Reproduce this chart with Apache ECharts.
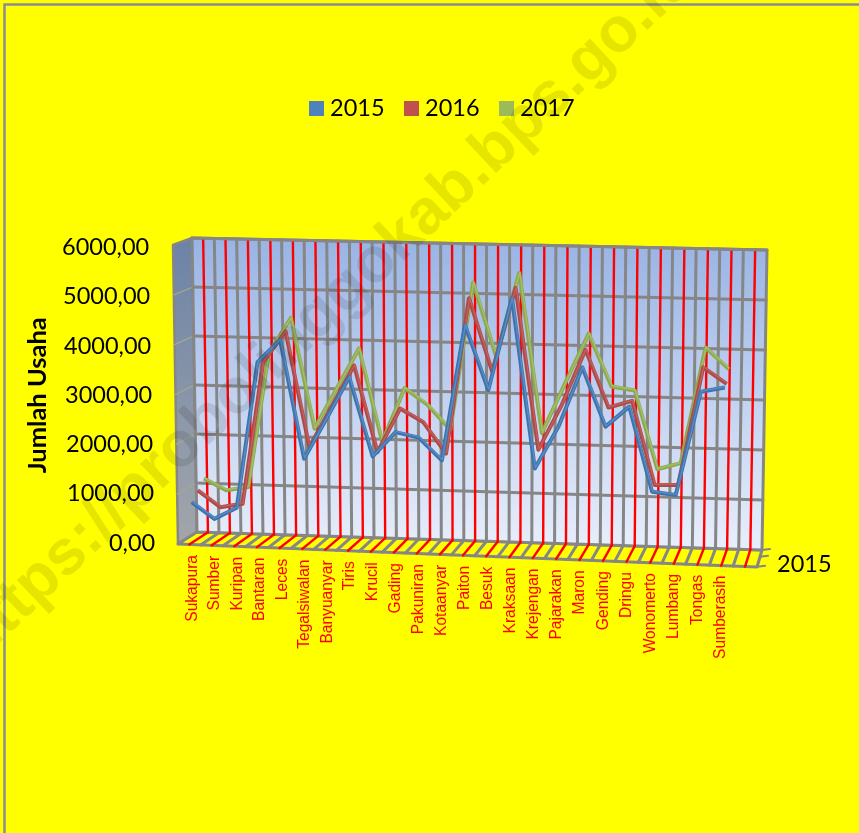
<!DOCTYPE html>
<html><head><meta charset="utf-8">
<style>html,body{margin:0;padding:0;background:#ff0}#c{width:859px;height:833px}</style>
<script src="https://cdn.jsdelivr.net/npm/echarts@6/dist/echarts.min.js"></script>
</head><body><div id="c"></div>
<script>
const categories=['Sukapura','Sumber','Kuripan','Bantaran','Leces','Tegalsiwalan','Banyuanyar','Tiris','Krucil','Gading','Pakuniran','Kotaanyar','Paiton','Besuk','Kraksaan','Krejengan','Pajarakan','Maron','Gending','Dringu','Wonomerto','Lumbang','Tongas','Sumberasih',''];
const values2015=[824,498,741,3720,4190,1790,2620,3475,1883,2393,2297,1853,4607,3307,5180,1755,2615,3826,2647,3065,1371,1322,3410,3512];
const values2016=[981,653,738,3637,4275,1937,2777,3623,1880,2777,2520,1896,5050,3580,5283,2033,2952,4077,2926,3075,1400,1417,3790,3470];
const values2017=[1140,912,996,3730,4464,2226,3050,3877,1995,3097,2773,2283,5270,3800,5485,2267,3288,4295,3244,3176,1607,1744,4075,3655];
const seriesNames=['2015','2016','2017'];
const depthLabel='2015';
const yTicks=[0,1000,2000,3000,4000,5000,6000];

const chart=echarts.init(document.getElementById('c'));
const G={left:179.2,top:247.5,width:574.2,height:295.5};
const W={bl:[197,532],br:[762,550],tl:[192,238],tr:[767,250]};
const lerp=(a,b,t)=>a+(b-a)*t;
// oblique projection of (u along categories, v along values, d depth: 1 = back wall, 0 = front)
function proj(u0,v,d){
  const u=u0+0.031*u0*(u0-1);
  const bx=lerp(W.bl[0],W.br[0],u),by=lerp(W.bl[1],W.br[1],u);
  const tx=lerp(W.tl[0],W.tr[0],u),ty=lerp(W.tl[1],W.tr[1],u);
  const dx=lerp(-19,-5,u),dy=lerp(12,17,u);
  return [lerp(bx,tx,v)+(1-d)*dx,lerp(by,ty,v)+(1-d)*dy];
}
function fromPixel(p,d){return proj((p[0]-G.left)/G.width,(G.top+G.height-p[1])/G.height,d);}
const GREY='#868686';
const ln=(a,b,stroke,w)=>({type:'line',shape:{x1:a[0],y1:a[1],x2:b[0],y2:b[1]},style:{stroke,lineWidth:w,lineCap:'round'}});
const poly=(pts,fill,stroke,w)=>({type:'polygon',shape:{points:pts},style:{fill,stroke,lineWidth:w,lineJoin:'round'}});
function frameRender(params,api){
  const ch=[];
  const tf=proj(0,1,0);tf[1]-=5;
  ch.push(poly([proj(0,0,0),proj(0,0,1),proj(0,1,1),tf],new echarts.graphic.LinearGradient(0,0,0,1,[{offset:0,color:'#6C83A6'},{offset:1,color:'#A3A6AB'}]),GREY,2.5));
  ch.push(poly([proj(0,0,1),proj(1,0,1),proj(1,0,0),proj(0,0,0)],'#FFFF00',GREY,3));
  ch.push(poly([proj(0,0,1),proj(1,0,1),proj(1,1,1),proj(0,1,1)],new echarts.graphic.LinearGradient(0,0,0,1,[{offset:0,color:'#98B3E4'},{offset:0.5,color:'#C0D1F0'},{offset:1,color:'#E9EFFB'}]),GREY,3));
  const n=categories.length;
  for(let k=1;k<n;k++){
    const u=k/n;
    ch.push(ln(proj(u,0,1),proj(u,1,1),GREY,3));
    ch.push(ln(proj(u,0,1),proj(u,0,0),GREY,3));
  }
  yTicks.slice(1,-1).forEach(t=>{
    const v=t/6000;
    const a=proj(0,v,1),b=proj(1,v,1),c=proj(0,v,0);c[1]-=5*v;
    ch.push(ln(a,c,'#A8A88E',1.2));
    ch.push(ln(a,b,GREY,3));
  });
  for(let k=0;k<n;k++){
    const u=(k+.5)/n;
    ch.push(ln(proj(u,0,1),proj(u,1,1),'#FF0000',2.4));
    ch.push(ln(proj(u,0,1),proj(u,0,0),'#FF0000',2.4));
  }
  [1,0.6,0.02].forEach(d=>{const a=proj(1,0,d);ch.push(ln(a,[a[0]+8,a[1]-1],GREY,2));});
  ch.push(ln(proj(0,1,1),proj(1,1,1),GREY,3));
  return {type:'group',children:ch};
}
function lineRender(depth,values,stroke,light){
  return function(params,api){
    if(params.dataIndex!==values.length-1) return null;
    const pts=values.map((v,i)=>fromPixel(api.coord([i,v]),depth));
    return {type:'group',children:[
      {type:'polyline',shape:{points:pts},style:{fill:'none',stroke,lineWidth:4,lineJoin:'round',lineCap:'butt'}},
      {type:'polyline',shape:{points:pts.map(p=>[p[0]+0.5,p[1]-0.7])},style:{fill:'none',stroke:light,lineWidth:1.4,lineJoin:'round'}}
    ]};
  };
}
const toData=a=>a.map((v,i)=>[i,v]);
const rich={};
categories.forEach((c,i)=>{
  const bow=0.0304*(i*i-23*i);           // labels follow the wall's perspective spacing
  rich['p'+i]={padding:[4,i*0.9,-2*bow,0],color:'#FF0000',fontSize:15.6,fontFamily:'Liberation Sans'};
});
const yRich={};
yTicks.forEach(t=>{yRich['t'+t]={padding:[0,6*t/6000,0,0],color:'#000',fontSize:23.5,fontFamily:'Lato'};});
chart.setOption({
  animation:false,
  backgroundColor:'#FFFF00',
  legend:{data:seriesNames,left:304,top:91.5,icon:'rect',itemWidth:15,itemHeight:15,itemGap:19.5,
    textStyle:{fontFamily:'Lato',fontSize:23.5,color:'#000',padding:[0,0,4,1]}},
  grid:{left:G.left,top:G.top,width:G.width,height:G.height,containLabel:false},
  xAxis:{type:'category',data:categories,boundaryGap:true,axisLine:{show:false},axisTick:{show:false},splitLine:{show:false},
    axisLabel:{interval:0,rotate:90,margin:12,formatter:(v,i)=>v?`{p${i}|${v}}`:'',rich}},
  yAxis:{type:'value',min:0,max:6000,interval:1000,name:'Jumlah Usaha',nameLocation:'middle',nameGap:128,
    nameTextStyle:{fontFamily:'Lato',fontWeight:'bold',fontSize:25.5,color:'#000'},
    axisLine:{show:false},axisTick:{show:false},splitLine:{show:false},
    axisLabel:{margin:24,formatter:v=>`{t${v}|${v.toFixed(2).replace('.',',')}}`,rich:yRich}},
  series:[
    {type:'custom',name:'frame',silent:true,z:1,renderItem:frameRender,data:[[0,0]],encode:{x:0,y:1}},
    {type:'custom',name:'2017',z:2,itemStyle:{color:'#9BBB59'},renderItem:lineRender(5/6,values2017,'#8DA94F','#A4BF68'),data:toData(values2017),encode:{x:0,y:1}},
    {type:'custom',name:'2016',z:3,itemStyle:{color:'#C0504D'},renderItem:lineRender(1/2,values2016,'#AD4A48','#C2605D'),data:toData(values2016),encode:{x:0,y:1}},
    {type:'custom',name:'2015',z:4,itemStyle:{color:'#4F81BD'},renderItem:lineRender(1/6,values2015,'#3D72AB','#5A8CC4'),data:toData(values2015),encode:{x:0,y:1}}
  ],
  graphic:[
    {type:'rect',z:0,silent:true,shape:{x:4.5,y:4.5,width:900,height:900},style:{fill:'none',stroke:'#8C8C96',lineWidth:2.5}},
    {type:'text',z:5,silent:true,x:777,y:564,style:{text:depthLabel,font:'23.5px Lato',fill:'#000',verticalAlign:'middle'}},
    {type:'text',z:100,silent:true,x:326,y:310,rotation:43.4*Math.PI/180,style:{text:'https://probolinggokab.bps.go.id',font:'bold 63.5px "Liberation Sans"',fill:'rgba(0,0,0,0.1)',align:'center',verticalAlign:'middle'}}
  ]
});
</script></body></html>
